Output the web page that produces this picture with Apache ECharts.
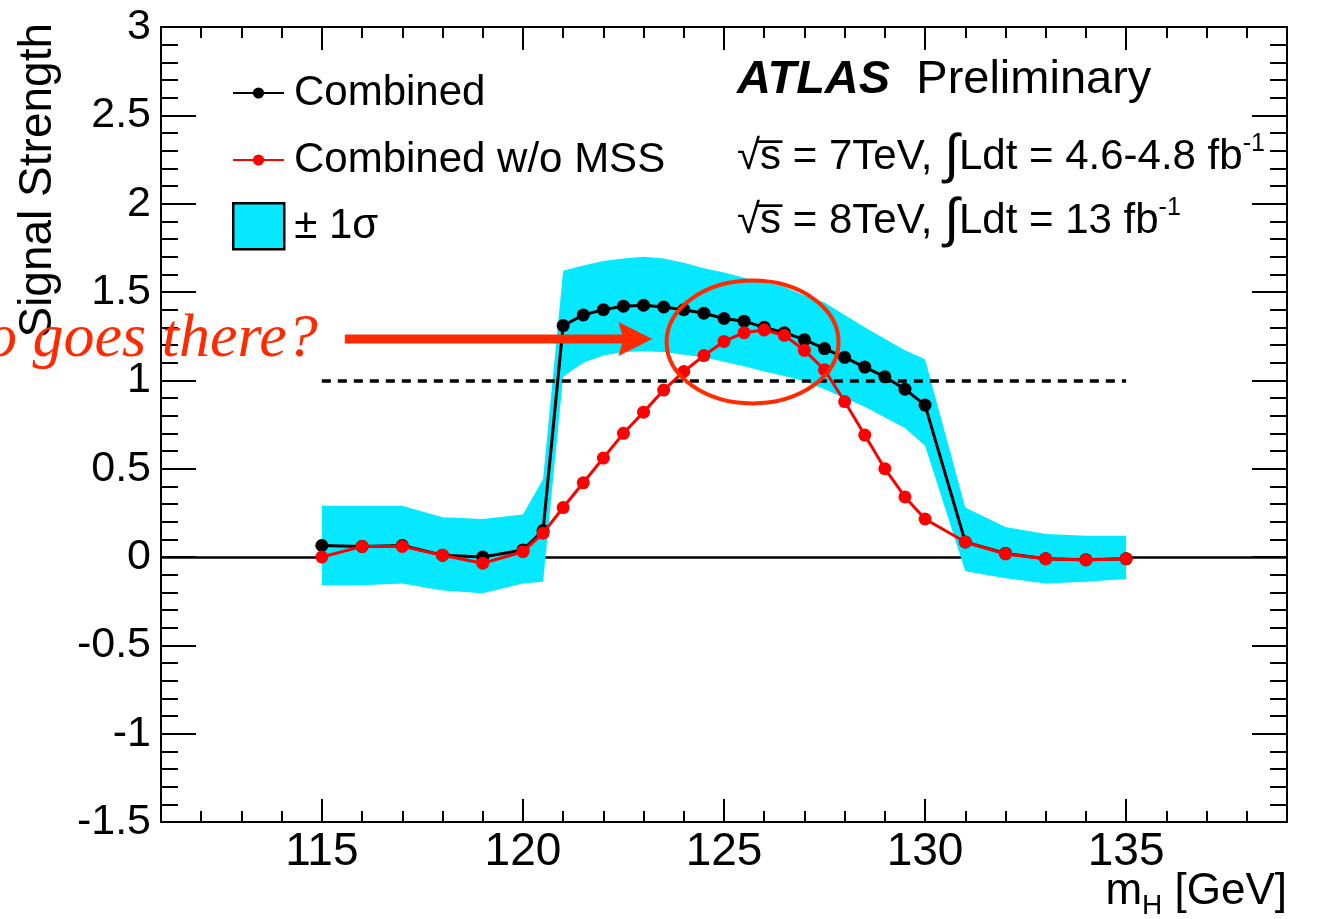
<!DOCTYPE html>
<html><head><meta charset="utf-8">
<script src="https://cdn.jsdelivr.net/npm/echarts@6/dist/echarts.min.js"></script>
<style>html,body{margin:0;padding:0;background:#fff}#c{width:1318px;height:919px}</style>
</head><body><div id="c"></div>
<script>
// ---- data ----
const massPoints = [115,116,117,118,119,120,120.5,121,121.5,122,122.5,123,123.5,124,124.5,125,125.5,126,126.5,127,127.5,128,128.5,129,129.5,130,131,132,133,134,135];
const combined = [0.065,0.06,0.065,0.01,0.0,0.04,0.15,1.31,1.37,1.40,1.42,1.425,1.415,1.40,1.38,1.35,1.335,1.30,1.27,1.23,1.18,1.13,1.075,1.02,0.95,0.86,0.085,0.02,-0.01,-0.015,-0.01];
const combinedNoMSS = [0.0,0.06,0.06,0.01,-0.035,0.03,0.135,0.28,0.42,0.56,0.70,0.82,0.945,1.05,1.14,1.22,1.27,1.285,1.255,1.17,1.06,0.88,0.69,0.50,0.34,0.215,0.085,0.017,-0.01,-0.017,-0.01];
const bandLow = [-0.16,-0.16,-0.15,-0.19,-0.205,-0.15,-0.14,1.02,1.10,1.14,1.16,1.165,1.16,1.145,1.13,1.105,1.08,1.05,1.025,0.995,0.95,0.90,0.85,0.79,0.73,0.63,-0.08,-0.12,-0.15,-0.14,-0.125];
const bandHigh = [0.29,0.29,0.29,0.225,0.215,0.24,0.44,1.62,1.65,1.675,1.69,1.70,1.69,1.665,1.635,1.61,1.58,1.555,1.53,1.48,1.44,1.37,1.30,1.235,1.17,1.12,0.28,0.17,0.13,0.12,0.12];
const xMajorTicks = [115,120,125,130,135];
const smReference = 1;         // SM expectation line
const smRange = [115,135];
// annotation anchors (data coordinates)
const arrowFrom = [115.57, 1.234];
const arrowTo = [123.22, 1.234];
const ellipseCenter = [125.71, 1.217];
const questionAnchor = [114.9, 1.228];

const FONT = 'Liberation Sans';
const BAND = '#05e8fd';
const ANN = '#ff2a00';

const chart = echarts.init(document.getElementById('c'), null, {renderer:'canvas'});

const gridPos = {left:161, right:31, top:27, bottom:97};
const minorX = (pos, grid) => ({
  type:'value', gridIndex:grid, min:111, max:139, interval:1, position:pos,
  axisLine:{show:true, onZero:false, lineStyle:{color:'#000', width:2}},
  axisTick:{show:true, inside:true, length:11, lineStyle:{color:'#000', width:2}},
  axisLabel:{show:false}, splitLine:{show:false}
});
const majorX = (pos, grid, labels) => ({
  type:'value', gridIndex:grid, min:111, max:139, position:pos,
  axisLine:{show:false, onZero:false},
  axisTick:{show:true, inside:true, length:23, customValues:xMajorTicks, lineStyle:{color:'#000', width:2}},
  axisLabel:{show:labels, customValues:xMajorTicks, fontSize:46, fontFamily:FONT, color:'#000', margin:7},
  splitLine:{show:false}
});
const yAx = (pos, labels) => ({
  type:'value', gridIndex:0, min:-1.5, max:3, interval:0.5, position:pos,
  axisLine:{show:true, onZero:false, lineStyle:{color:'#000', width:2}},
  axisTick:{show:true, inside:true, length:35, lineStyle:{color:'#000', width:2}},
  minorTick:{show:true, splitNumber:5, length:17, lineStyle:{color:'#000', width:2}},
  axisLabel:{show:labels, fontSize:43, fontFamily:FONT, color:'#000', margin:10},
  splitLine:{show:false}
});

const option = {
  animation:false,
  backgroundColor:'#fff',
  grid:[Object.assign({}, gridPos), Object.assign({}, gridPos)],
  xAxis:[minorX('bottom',0), minorX('top',0), majorX('bottom',1,true), majorX('top',1,false)],
  yAxis:[yAx('left',true), yAx('right',false), {type:'value', gridIndex:1, min:-1.5, max:3, show:false}],
  legend:[
    {data:['Combined','Combined w/o MSS'], orient:'vertical', left:232, top:68, padding:0,
     itemWidth:51, itemHeight:14, itemGap:17, selectedMode:false,
     textStyle:{fontSize:42, fontFamily:FONT, color:'#000', lineHeight:50, padding:[0,0,0,5]}},
    {data:[{name:'± 1σ', icon:'rect', itemStyle:{color:BAND, borderColor:'#000', borderWidth:2.5}}],
     orient:'vertical', left:232, top:202, padding:0, itemWidth:51, itemHeight:46, selectedMode:false,
     textStyle:{fontSize:42, fontFamily:FONT, color:'#000', padding:[0,0,0,5]}}
  ],
  series:[
    {type:'line', name:'zero', data:[], xAxisIndex:0, yAxisIndex:0, z:1,
     markLine:{silent:true, z:1, symbol:['none','none'], label:{show:false},
       lineStyle:{color:'#000', width:2.5, type:'solid'}, data:[{yAxis:0}]}},
    {type:'custom', name:'± 1σ', xAxisIndex:0, yAxisIndex:0, z:2,
     itemStyle:{color:BAND},
     encode:{x:0, y:[1,2]},
     data: massPoints.map((m,i)=>[m, bandLow[i], bandHigh[i]]),
     renderItem:function(params, api){
       if (params.dataIndex !== 0) return null;
       const pts = [];
       for (let i=0;i<massPoints.length;i++) pts.push(api.coord([massPoints[i], bandHigh[i]]));
       for (let i=massPoints.length-1;i>=0;i--) pts.push(api.coord([massPoints[i], bandLow[i]]));
       return {type:'polygon', shape:{points:pts}, style:{fill:BAND}};
     }},
    {type:'line', name:'sm', data:[], xAxisIndex:0, yAxisIndex:0, z:3,
     markLine:{silent:true, z:3, symbol:['none','none'], label:{show:false},
       lineStyle:{color:'#000', width:3.5, type:[9,7]},
       data:[[{coord:[smRange[0], smReference]},{coord:[smRange[1], smReference]}]]}},
    {type:'line', name:'Combined', xAxisIndex:0, yAxisIndex:0, z:4,
     data: massPoints.map((m,i)=>[m, combined[i]]),
     symbol:'circle', symbolSize:13, showAllSymbol:true,
     itemStyle:{color:'#000'}, lineStyle:{color:'#000', width:3}},
    {type:'line', name:'Combined w/o MSS', xAxisIndex:0, yAxisIndex:0, z:5,
     data: massPoints.map((m,i)=>[m, combinedNoMSS[i]]),
     symbol:'circle', symbolSize:13, showAllSymbol:true,
     itemStyle:{color:'#ff0000'}, lineStyle:{color:'#ff0000', width:3}}
  ],
  graphic:[
    {type:'text', x:38, y:23, rotation:Math.PI/2, z:10,
     style:{text:'Signal Strength', fontSize:46, fontFamily:FONT, fill:'#000', align:'right', verticalAlign:'middle'}},
    {type:'text', x:1287, y:892, z:10,
     style:{text:'{r|m}{sub|H}{r| [GeV]}', align:'right', verticalAlign:'middle',
       rich:{r:{fontSize:44, fontFamily:FONT, fill:'#000', lineHeight:56},
             sub:{fontSize:28, fontFamily:FONT, fill:'#000', lineHeight:28, verticalAlign:'bottom'}}}},
    {type:'text', x:737, y:80, z:10,
     style:{text:'{b|ATLAS}{r|  Preliminary}', verticalAlign:'middle',
       rich:{b:{fontSize:47, fontFamily:FONT, fontWeight:'bold', fontStyle:'italic', fill:'#000'},
             r:{fontSize:47, fontFamily:FONT, fill:'#000'}}}},
    {type:'text', x:737, y:157, z:10,
     style:{text:'{r|√s\u0305 = 7TeV, }{i|∫}{r|Ldt = 4.6-4.8 fb}{sup|-1}', verticalAlign:'middle',
       rich:{r:{fontSize:42, fontFamily:FONT, fill:'#000', lineHeight:50},
             i:{fontSize:54, fontFamily:FONT, fill:'#000', lineHeight:50},
             sup:{fontSize:25, fontFamily:FONT, fill:'#000', lineHeight:25, verticalAlign:'top'}}}},
    {type:'text', x:737, y:221, z:10,
     style:{text:'{r|√s\u0305 = 8TeV, }{i|∫}{r|Ldt = 13 fb}{sup|-1}', verticalAlign:'middle',
       rich:{r:{fontSize:42, fontFamily:FONT, fill:'#000', lineHeight:50},
             i:{fontSize:54, fontFamily:FONT, fill:'#000', lineHeight:50},
             sup:{fontSize:25, fontFamily:FONT, fill:'#000', lineHeight:25, verticalAlign:'top'}}}}
  ]
};
chart.setOption(option);

// annotations placed via the chart's own coordinate conversion
const px = p => chart.convertToPixel({gridIndex:0}, p);
const a0 = px(arrowFrom), a1 = px(arrowTo), ec = px(ellipseCenter), qa = px(questionAnchor);
const headL = 34, headH = 17;
chart.setOption({graphic: option.graphic.concat([
  {type:'rect', z:20, shape:{x:a0[0], y:a1[1]-4.5, width:(a1[0]-headL+5)-a0[0], height:9}, style:{fill:ANN}},
  {type:'polygon', z:20, shape:{points:[[a1[0],a1[1]],[a1[0]-headL,a1[1]-headH],[a1[0]-headL+5,a1[1]],[a1[0]-headL,a1[1]+headH]]}, style:{fill:ANN}},
  {type:'ellipse', z:20, shape:{cx:ec[0], cy:ec[1], rx:86, ry:61.5}, style:{fill:null, stroke:ANN, lineWidth:4}},
  {type:'text', z:20, x:qa[0], y:qa[1],
   style:{text:'Who goes there?', fontSize:62, fontFamily:'Liberation Serif', fontStyle:'italic', fill:ANN, align:'right', verticalAlign:'middle'}}
])}, {replaceMerge:['graphic']});
</script>
</body></html>
